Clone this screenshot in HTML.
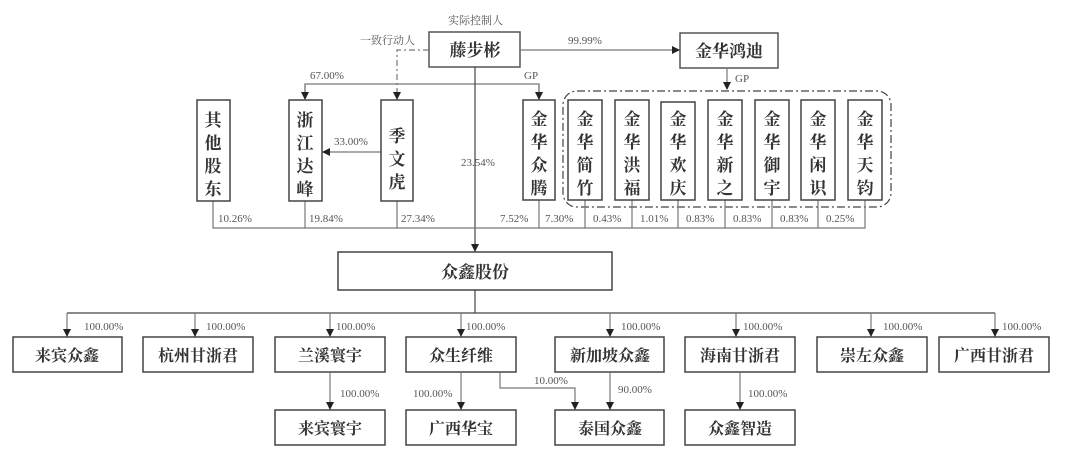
<!DOCTYPE html>
<html><head><meta charset="utf-8"><style>
html,body{margin:0;padding:0;background:#fff;}
svg{display:block;}
.b{font-family:"Liberation Serif","Noto Serif CJK SC",serif;font-weight:bold;fill:#333;}
.p{font-family:"Liberation Serif","Noto Serif CJK SC",serif;font-size:11px;fill:#555;}
</style></head><body>
<svg width="1080" height="457" viewBox="0 0 1080 457" xmlns="http://www.w3.org/2000/svg">
<defs><marker id="a" markerWidth="8" markerHeight="8" refX="7" refY="4" orient="auto" markerUnits="userSpaceOnUse"><path d="M0,0 L8,4 L0,8z" fill="#222"/></marker></defs>
<g stroke="#777" stroke-width="1.2" fill="none">
<rect x="429" y="32" width="91" height="35" stroke="#555" stroke-width="1.5"/>
<rect x="680" y="33" width="98" height="35" stroke="#555" stroke-width="1.5"/>
<line x1="520" y1="50" x2="679" y2="50" marker-end="url(#a)"/>
<line x1="727" y1="68" x2="727" y2="89" marker-end="url(#a)"/>
<rect x="563" y="91" width="328" height="116" rx="14" stroke="#444" stroke-dasharray="8,3,2,3"/>
<path d="M429 50 H397 V99" stroke-dasharray="6,3,2,3" marker-end="url(#a)"/>
<path d="M305 99 V84 H539 V99" />
<line x1="305" y1="84" x2="305" y2="99" marker-end="url(#a)"/>
<line x1="539" y1="84" x2="539" y2="99" marker-end="url(#a)"/>
<line x1="381" y1="152" x2="323" y2="152" marker-end="url(#a)"/>
<line x1="475" y1="67" x2="475" y2="251" stroke="#444" marker-end="url(#a)"/>
<path d="M213 201 V228 H865 V200"/>
<path d="M305 201 V228 M397 201 V228 M539 200 V228 M585 200 V228 M632 200 V228 M678 200 V228 M725 200 V228 M772 200 V228 M818 200 V228"/>
<g stroke="#444" stroke-width="1.5">
<rect x="197" y="100" width="33" height="101"/><rect x="289" y="100" width="33" height="101"/><rect x="381" y="100" width="32" height="101"/><rect x="523" y="100" width="32" height="100"/>
<rect x="568" y="100" width="34" height="100"/><rect x="615" y="100" width="34" height="100"/><rect x="661" y="102" width="34" height="98"/><rect x="708" y="100" width="34" height="100"/><rect x="755" y="100" width="34" height="100"/><rect x="801" y="100" width="34" height="100"/><rect x="848" y="100" width="34" height="100"/>
<rect x="338" y="252" width="274" height="38"/>
<rect x="13" y="337" width="109" height="35"/><rect x="143" y="337" width="110" height="35"/><rect x="275" y="337" width="110" height="35"/><rect x="406" y="337" width="110" height="35"/>
<rect x="555" y="337" width="109" height="35"/><rect x="685" y="337" width="110" height="35"/><rect x="817" y="337" width="110" height="35"/><rect x="939" y="337" width="110" height="35"/>
<rect x="275" y="410" width="110" height="35"/><rect x="406" y="410" width="110" height="35"/><rect x="555" y="410" width="109" height="35"/><rect x="685" y="410" width="110" height="35"/>
</g>
<path d="M475 290 V313 M67 313 H995" stroke="#444"/>
<g marker-end="url(#a)">
<line x1="67" y1="313" x2="67" y2="336"/><line x1="195" y1="313" x2="195" y2="336"/><line x1="330" y1="313" x2="330" y2="336"/><line x1="461" y1="313" x2="461" y2="336"/>
<line x1="610" y1="313" x2="610" y2="336"/><line x1="736" y1="313" x2="736" y2="336"/><line x1="871" y1="313" x2="871" y2="336"/><line x1="995" y1="313" x2="995" y2="336"/>
<line x1="330" y1="372" x2="330" y2="409"/><line x1="461" y1="372" x2="461" y2="409"/><line x1="610" y1="372" x2="610" y2="409"/><line x1="740" y1="372" x2="740" y2="409"/>
<path d="M500 372 V388 H575 V409"/>
</g>
</g>
<g class="p">
<text x="448" y="24" font-size="11">实际控制人</text>
<text x="360" y="44" font-size="11">一致行动人</text>
<text x="568" y="44">99.99%</text>
<text x="735" y="82">GP</text>
<text x="310" y="79">67.00%</text>
<text x="524" y="79">GP</text>
<text x="334" y="145">33.00%</text>
<text x="461" y="166">23.54%</text>
<text x="218" y="222">10.26%</text><text x="309" y="222">19.84%</text><text x="401" y="222">27.34%</text><text x="500" y="222">7.52%</text>
<text x="545" y="222">7.30%</text><text x="593" y="222">0.43%</text><text x="640" y="222">1.01%</text><text x="686" y="222">0.83%</text><text x="733" y="222">0.83%</text><text x="780" y="222">0.83%</text><text x="826" y="222">0.25%</text>
<text x="84" y="330">100.00%</text><text x="206" y="330">100.00%</text><text x="336" y="330">100.00%</text><text x="466" y="330">100.00%</text>
<text x="621" y="330">100.00%</text><text x="743" y="330">100.00%</text><text x="883" y="330">100.00%</text><text x="1002" y="330">100.00%</text>
<text x="340" y="397">100.00%</text><text x="413" y="397">100.00%</text><text x="534" y="384">10.00%</text><text x="618" y="393">90.00%</text><text x="748" y="397">100.00%</text>
</g>
<g class="b" font-size="17" text-anchor="middle">
<text x="475" y="56">藤步彬</text>
<text x="729" y="57">金华鸿迪</text>
<text x="475" y="278">众鑫股份</text>
</g>
<g class="b" font-size="16" text-anchor="middle">
<text x="67" y="361">来宾众鑫</text><text x="198" y="361">杭州甘浙君</text><text x="330" y="361">兰溪寰宇</text><text x="461" y="361">众生纤维</text>
<text x="610" y="361">新加坡众鑫</text><text x="740" y="361">海南甘浙君</text><text x="872" y="361">崇左众鑫</text><text x="994" y="361">广西甘浙君</text>
<text x="330" y="434">来宾寰宇</text><text x="461" y="434">广西华宝</text><text x="610" y="434">泰国众鑫</text><text x="740" y="434">众鑫智造</text>
</g>
<g class="b" font-size="17" text-anchor="middle">
<text x="213" y="126">其</text><text x="213" y="149">他</text><text x="213" y="172">股</text><text x="213" y="195">东</text>
<text x="305" y="126">浙</text><text x="305" y="149">江</text><text x="305" y="172">达</text><text x="305" y="195">峰</text>
<text x="397" y="142">季</text><text x="397" y="165">文</text><text x="397" y="188">虎</text>
<text x="539" y="125">金</text><text x="539" y="148">华</text><text x="539" y="171">众</text><text x="539" y="194">腾</text>
<text x="585" y="125">金</text><text x="585" y="148">华</text><text x="585" y="171">简</text><text x="585" y="194">竹</text>
<text x="632" y="125">金</text><text x="632" y="148">华</text><text x="632" y="171">洪</text><text x="632" y="194">福</text>
<text x="678" y="125">金</text><text x="678" y="148">华</text><text x="678" y="171">欢</text><text x="678" y="194">庆</text>
<text x="725" y="125">金</text><text x="725" y="148">华</text><text x="725" y="171">新</text><text x="725" y="194">之</text>
<text x="772" y="125">金</text><text x="772" y="148">华</text><text x="772" y="171">御</text><text x="772" y="194">宇</text>
<text x="818" y="125">金</text><text x="818" y="148">华</text><text x="818" y="171">闲</text><text x="818" y="194">识</text>
<text x="865" y="125">金</text><text x="865" y="148">华</text><text x="865" y="171">天</text><text x="865" y="194">钧</text>
</g>
</svg>
</body></html>
